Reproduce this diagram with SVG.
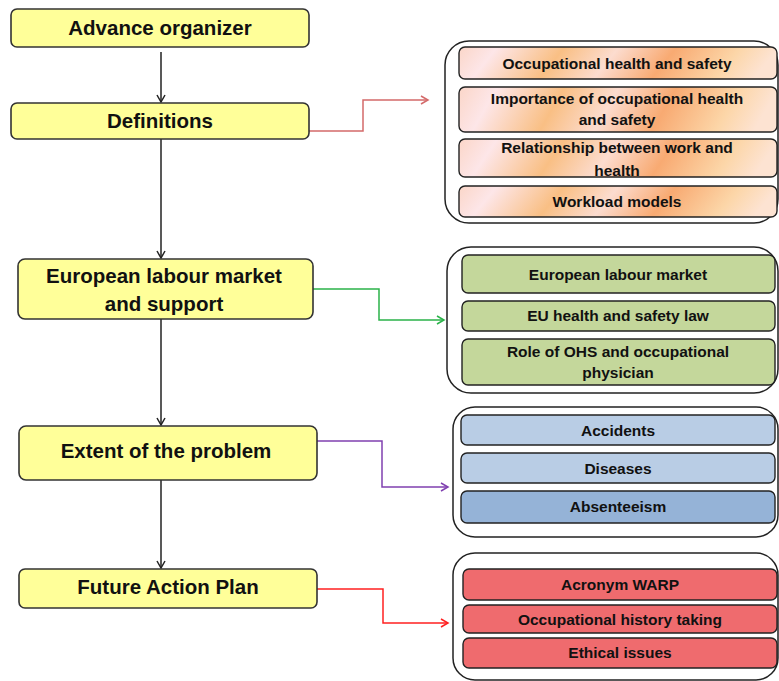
<svg xmlns="http://www.w3.org/2000/svg" width="779" height="681" viewBox="0 0 779 681">
<style>
.main{fill:#ffff99;stroke:#333;stroke-width:1.6}
.outer{fill:#fff;stroke:#222;stroke-width:1.5}
.sub{stroke:#222;stroke-width:1.4}
.t1{font-family:"Liberation Sans",Arial,sans-serif;font-weight:bold;font-size:20.5px;fill:#111;text-anchor:middle}
.t2{font-family:"Liberation Sans",Arial,sans-serif;font-weight:bold;font-size:15.5px;fill:#111;text-anchor:middle}
.c{fill:none;stroke-width:1.5}
</style>
<defs>
<linearGradient id="peach" x1="0" y1="0" x2="1" y2="0.08">
<stop offset="0" stop-color="#fbd6c8"/>
<stop offset="0.12" stop-color="#fde6e8"/>
<stop offset="0.33" stop-color="#f9bf84"/>
<stop offset="0.5" stop-color="#fcdccf"/>
<stop offset="0.68" stop-color="#f8aa72"/>
<stop offset="0.88" stop-color="#fcd6a8"/>
<stop offset="1" stop-color="#fde3d2"/>
</linearGradient>
<marker id="aK" markerWidth="10" markerHeight="10" refX="8" refY="5" orient="auto" markerUnits="userSpaceOnUse"><path d="M1,1 L8,5 L1,9" fill="none" stroke="#222" stroke-width="1.5"/></marker>
<marker id="aR" markerWidth="10" markerHeight="10" refX="8" refY="5" orient="auto" markerUnits="userSpaceOnUse"><path d="M1,1 L8,5 L1,9" fill="none" stroke="#d46a6a" stroke-width="1.5"/></marker>
<marker id="aG" markerWidth="10" markerHeight="10" refX="8" refY="5" orient="auto" markerUnits="userSpaceOnUse"><path d="M1,1 L8,5 L1,9" fill="none" stroke="#2bb34a" stroke-width="1.5"/></marker>
<marker id="aP" markerWidth="10" markerHeight="10" refX="8" refY="5" orient="auto" markerUnits="userSpaceOnUse"><path d="M1,1 L8,5 L1,9" fill="none" stroke="#8040b0" stroke-width="1.5"/></marker>
<marker id="aF" markerWidth="10" markerHeight="10" refX="8" refY="5" orient="auto" markerUnits="userSpaceOnUse"><path d="M1,1 L8,5 L1,9" fill="none" stroke="#ff2020" stroke-width="1.5"/></marker>
</defs>

<g id="connectors">
<path class="c" stroke="#222" d="M161,52 V102" marker-end="url(#aK)"/>
<path class="c" stroke="#222" d="M161,139 V258" marker-end="url(#aK)"/>
<path class="c" stroke="#222" d="M161,319 V425" marker-end="url(#aK)"/>
<path class="c" stroke="#222" d="M161,480 V568" marker-end="url(#aK)"/>
<path class="c" stroke="#d46a6a" d="M309,131 H363 V100 H428" marker-end="url(#aR)"/>
<path class="c" stroke="#2bb34a" d="M313,289 H379 V320 H444" marker-end="url(#aG)"/>
<path class="c" stroke="#8040b0" d="M317,441 H382 V487 H448" marker-end="url(#aP)"/>
<path class="c" stroke="#ff2020" d="M317,589 H383 V623 H448" marker-end="url(#aF)"/>
</g>

<g id="advance-organizer">
<rect class="main" x="11" y="9" width="298" height="38" rx="6"/>
<text class="t1" x="160" y="35">Advance organizer</text>
</g>
<g id="definitions">
<rect class="main" x="11" y="103" width="298" height="36" rx="6"/>
<text class="t1" x="160" y="128">Definitions</text>
</g>
<g id="european-labour-market">
<rect class="main" x="18" y="259" width="295" height="60" rx="7"/>
<text class="t1" x="164" y="283">European labour market</text>
<text class="t1" x="164" y="311">and support</text>
</g>
<g id="extent-of-problem">
<rect class="main" x="19" y="426" width="298" height="54" rx="7"/>
<text class="t1" x="166" y="458">Extent of the problem</text>
</g>
<g id="future-action-plan">
<rect class="main" x="19" y="569" width="298" height="39" rx="6"/>
<text class="t1" x="168" y="594">Future Action Plan</text>
</g>

<g id="definitions-group">
<rect class="outer" x="445" y="41" width="333" height="182" rx="24"/>
<g id="occupational-health-and-safety">
<rect class="sub" fill="url(#peach)" x="459" y="47" width="318" height="32" rx="6"/>
<text class="t2" x="617" y="69">Occupational health and safety</text>
</g>
<g id="importance">
<rect class="sub" fill="url(#peach)" x="459" y="87" width="318" height="45" rx="6"/>
<text class="t2" x="617" y="104">Importance of occupational health</text>
<text class="t2" x="617" y="125">and safety</text>
</g>
<g id="relationship">
<rect class="sub" fill="url(#peach)" x="459" y="139" width="318" height="38" rx="6"/>
<text class="t2" x="617" y="153">Relationship between work and</text>
<text class="t2" x="617" y="176">health</text>
</g>
<g id="workload-models">
<rect class="sub" fill="url(#peach)" x="459" y="186" width="318" height="31" rx="6"/>
<text class="t2" x="617" y="207">Workload models</text>
</g>
</g>

<g id="labour-group">
<rect class="outer" x="447" y="247" width="331" height="146" rx="24"/>
<g id="european-labour-market-sub">
<rect class="sub" fill="#c4d79b" x="462" y="255" width="313" height="38" rx="6"/>
<text class="t2" x="618" y="280">European labour market</text>
</g>
<g id="eu-law">
<rect class="sub" fill="#c4d79b" x="462" y="301" width="313" height="30" rx="6"/>
<text class="t2" x="618" y="321">EU health and safety law</text>
</g>
<g id="role-ohs">
<rect class="sub" fill="#c4d79b" x="462" y="339" width="313" height="46" rx="6"/>
<text class="t2" x="618" y="357">Role of OHS and occupational</text>
<text class="t2" x="618" y="378">physician</text>
</g>
</g>

<g id="problem-group">
<rect class="outer" x="453" y="407" width="325" height="130" rx="22"/>
<g id="accidents">
<rect class="sub" fill="#b9cde5" x="461" y="415" width="314" height="30" rx="6"/>
<text class="t2" x="618" y="436">Accidents</text>
</g>
<g id="diseases">
<rect class="sub" fill="#b9cde5" x="461" y="453" width="314" height="30" rx="6"/>
<text class="t2" x="618" y="474">Diseases</text>
</g>
<g id="absenteeism">
<rect class="sub" fill="#95b3d7" x="461" y="491" width="314" height="32" rx="6"/>
<text class="t2" x="618" y="512">Absenteeism</text>
</g>
</g>

<g id="action-group">
<rect class="outer" x="453" y="553" width="325" height="127" rx="22"/>
<g id="acronym-warp">
<rect class="sub" fill="#ef6b6e" x="463" y="569" width="314" height="31" rx="6"/>
<text class="t2" x="620" y="590">Acronym WARP</text>
</g>
<g id="occupational-history">
<rect class="sub" fill="#ef6b6e" x="463" y="605" width="314" height="28" rx="6"/>
<text class="t2" x="620" y="625">Occupational history taking</text>
</g>
<g id="ethical-issues">
<rect class="sub" fill="#ef6b6e" x="463" y="638" width="314" height="30" rx="6"/>
<text class="t2" x="620" y="658">Ethical issues</text>
</g>
</g>
</svg>
